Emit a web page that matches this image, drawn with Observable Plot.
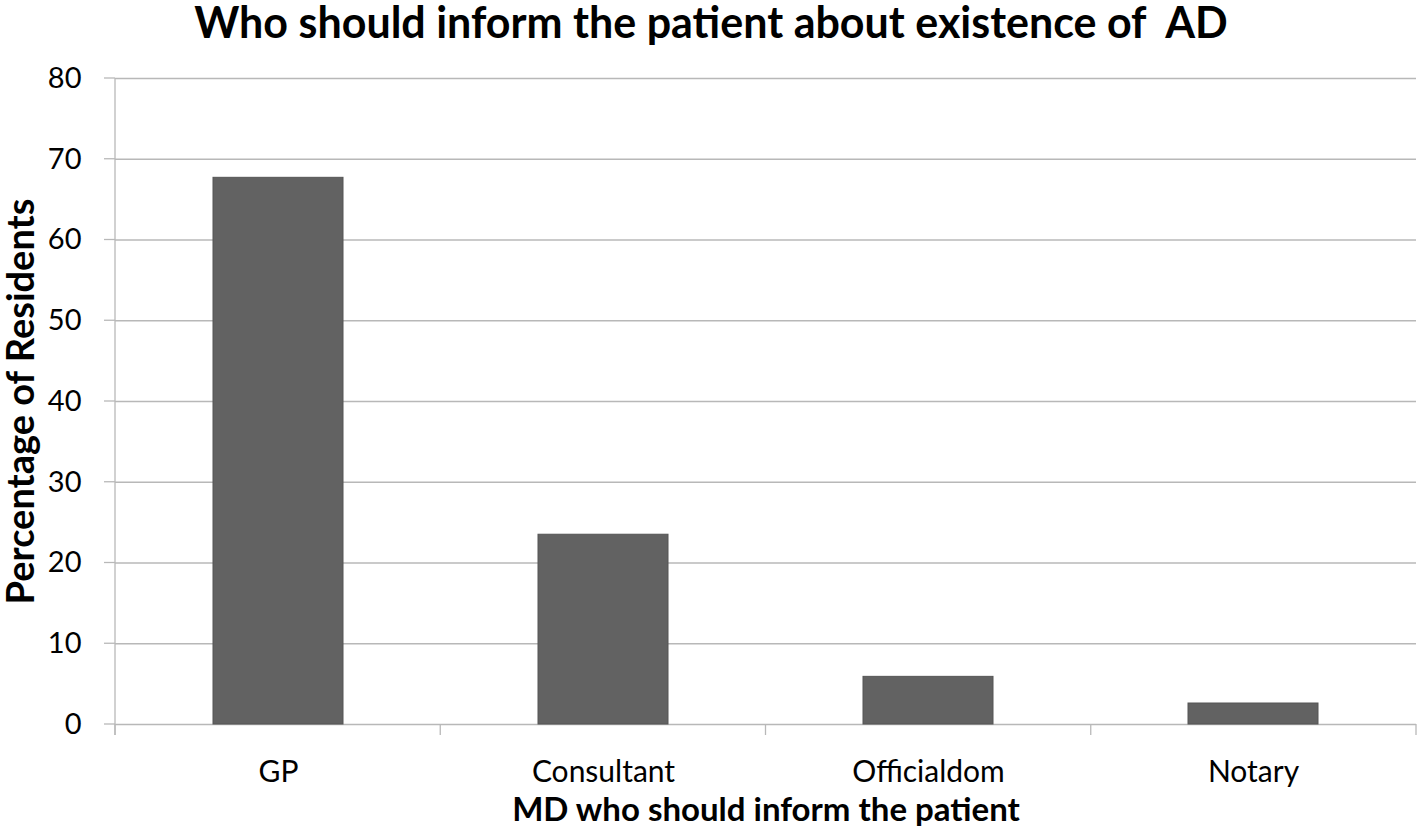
<!DOCTYPE html>
<html>
<head>
<meta charset="utf-8">
<script src="https://cdn.jsdelivr.net/npm/d3@7"></script>
<script src="https://cdn.jsdelivr.net/npm/@observablehq/plot@0.6"></script>
<style>
  html, body { margin: 0; padding: 0; background: #fff; }
  #chart svg { display: block; }
</style>
</head>
<body>
<div id="chart"></div>
<script>
const categories = ["GP", "Consultant", "Officialdom", "Notary"];
const values = [67.7, 23.5, 5.9, 2.6];
const yTicks = [0, 10, 20, 30, 40, 50, 60, 70, 80];
const titleText = "Who should inform the patient about existence of  AD";
const xLabel = "MD who should inform the patient";
const yLabel = "Percentage of Residents";

const data = categories.map((c, i) => ({category: c, value: values[i]}));
const FONT = "Lato, 'Open Sans', sans-serif";

function axisDecor(index, scales, values, dim) {
  const g = d3.create("svg:g").attr("stroke", "#b8b8b8").attr("stroke-width", 1.3).attr("fill", "none");
  const left = dim.marginLeft;
  const right = dim.width - dim.marginRight;
  const y0 = scales.y(0), yTop = scales.y(yTicks[yTicks.length - 1]);
  g.append("line").attr("x1", left).attr("x2", left).attr("y1", yTop).attr("y2", y0 + 11);
  for (const t of yTicks) {
    g.append("line").attr("x1", left - 11).attr("x2", left).attr("y1", scales.y(t)).attr("y2", scales.y(t));
  }
  const step = (right - left) / categories.length;
  for (let i = 0; i <= categories.length; i++) {
    const x = left + i * step;
    g.append("line").attr("x1", x).attr("x2", x).attr("y1", y0).attr("y2", y0 + 11);
  }
  return g.node();
}

const chart = Plot.plot({
  width: 1418,
  height: 836,
  marginTop: 78,
  marginLeft: 115,
  marginRight: 2,
  marginBottom: 112,
  style: {fontFamily: FONT, background: "#fff", color: "#000"},
  x: {domain: categories, paddingInner: 0.6, paddingOuter: 0.3, label: null},
  y: {domain: [0, 80], label: null},
  marks: [
    Plot.gridY(yTicks, {stroke: "#b8b8b8", strokeOpacity: 1, strokeWidth: 1.3}),
    Plot.barY(data, {x: "category", y: "value", fill: "#626262", stroke: "#555", strokeWidth: 1}),
    axisDecor,
    Plot.axisY({ticks: yTicks, tickSize: 0, tickPadding: 34, fontSize: 29, label: null}),
    Plot.axisX({tickSize: 0, tickPadding: 36, fontSize: 30, label: null}),
    Plot.text([titleText], {frameAnchor: "top", dx: -55, dy: -71, fontSize: 43, fontWeight: "bold", fill: "#000"}),
    Plot.text([xLabel], {frameAnchor: "bottom", dy: 96, fontSize: 33, fontWeight: "bold", fill: "#000"}),
    Plot.text([yLabel], {frameAnchor: "left", textAnchor: "middle", rotate: -90, dx: -94, fontSize: 38, fontWeight: "bold", fill: "#000"})
  ]
});
chart.querySelectorAll("text").forEach(t => t.setAttribute("xml:space", "preserve"));
chart.style.whiteSpace = "pre";
document.getElementById("chart").appendChild(chart);
</script>
</body>
</html>
